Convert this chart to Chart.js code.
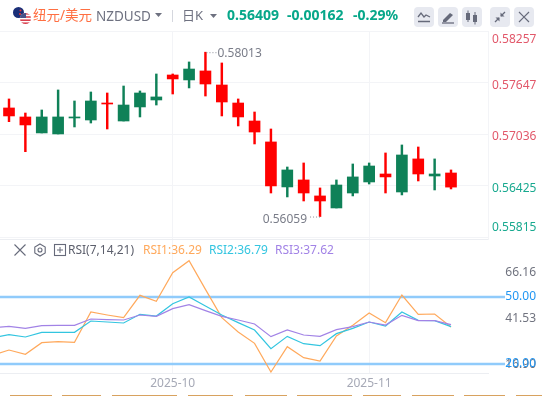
<!DOCTYPE html>
<html><head><meta charset="utf-8">
<script src="https://cdn.jsdelivr.net/npm/chart.js@4"></script>
<style>
html,body{margin:0;padding:0;background:#fff;overflow:hidden}
#wrap{position:relative;width:542px;height:396px;font-family:"Noto Sans","Noto Sans CJK SC",sans-serif;overflow:hidden}
#c{position:absolute;left:0;top:0;width:542px;height:396px}
.t{position:absolute;white-space:nowrap;line-height:18px;height:18px}
.btn{position:absolute;top:7px;width:20px;height:20px;background:#e7e9f0;border-radius:4px}
.btn svg{position:absolute;left:0;top:0}
.tab{position:absolute;top:395px;height:1px;background:#d8a25f}
svg.ic{position:absolute}
</style></head><body>
<div id="wrap">
<canvas id="c" width="542" height="396"></canvas>
<svg class="ic" style="left:12px;top:6px" width="22" height="20" viewBox="0 0 22 20">
 <defs><clipPath id="a"><circle cx="13.5" cy="12.5" r="5.5"/></clipPath></defs>
 <circle cx="6.5" cy="6.5" r="5.5" fill="#1a2f78"/><circle cx="8.5" cy="4.5" r="1" fill="#e33"/><circle cx="8" cy="8" r="1" fill="#e33"/>
 <g clip-path="url(#a)"><rect x="7" y="6" width="14" height="13" fill="#fff"/><rect x="7" y="7" width="14" height="1.6" fill="#d9404f"/><rect x="7" y="10.2" width="14" height="1.6" fill="#d9404f"/><rect x="7" y="13.4" width="14" height="1.6" fill="#d9404f"/><rect x="7" y="16.4" width="14" height="1.6" fill="#d9404f"/><rect x="7" y="6" width="7" height="6" fill="#48528a"/></g>
</svg>
<div class="t" style="left:33px;top:6px;font-size:13.5px;color:#ff6f42">纽元/美元</div>
<div class="t" style="left:96px;top:7px;font-size:13.5px;color:#6e7180">NZDUSD</div>
<svg class="ic" style="left:155px;top:13px" width="8" height="5"><path d="M0 0H7L3.5 4Z" fill="#6e7180"/></svg>
<div style="position:absolute;left:172px;top:10px;width:1px;height:12px;background:#d5d7de"></div>
<div class="t" style="left:182px;top:6px;font-size:13px;color:#6e7180">日K</div>
<svg class="ic" style="left:210px;top:14px" width="8" height="5"><path d="M0 0H7L3.5 4Z" fill="#6e7180"/></svg>
<div class="t" style="left:227px;top:6px;font-size:14px;font-weight:700;color:#07a78a">0.56409</div>
<div class="t" style="left:287px;top:6px;font-size:14px;font-weight:700;color:#07a78a">-0.00162</div>
<div class="t" style="left:353px;top:6px;font-size:14px;font-weight:700;color:#07a78a">-0.29%</div>
<div class="btn" style="left:414px"><svg width="20" height="20"><path d="M4 10l3-4 3 4 2-2 4 2" fill="none" stroke="#666a7a" stroke-width="1.3"/><path d="M4 14.5H16" stroke="#666a7a" stroke-width="1.5"/></svg></div>
<div class="btn" style="left:438px"><svg width="20" height="20"><path d="M5 13l7-7 3 2-7 7H5z" fill="#666a7a"/><path d="M4 16H16" stroke="#666a7a" stroke-width="1.3"/></svg></div>
<div class="btn" style="left:462px"><svg width="20" height="20"><rect x="4" y="6" width="4" height="7" fill="#666a7a"/><rect x="11" y="8" width="4" height="7" fill="#666a7a"/><path d="M6 3.5V15M13 5V17.5" stroke="#666a7a"/></svg></div>
<div class="btn" style="left:490px"><svg width="20" height="20"><path d="M15 5l-4 4M5 15l4-4" stroke="#666a7a" stroke-width="1.3"/><path d="M10.5 5.5v4h4M5.5 10.5h4v4" fill="#666a7a"/></svg></div>
<div class="btn" style="left:514px"><svg width="20" height="20"><path d="M5 5l10 10M15 5L5 15" stroke="#666a7a" stroke-width="1.2"/></svg></div>

<svg class="ic" style="left:13px;top:243px" width="14" height="14"><path d="M1.5 1.5l11 11M12.5 1.5l-11 11" stroke="#666a7a" stroke-width="1.1"/></svg>
<svg class="ic" style="left:33px;top:243px" width="14" height="14"><path d="M7 1l5.2 3v6L7 13 1.8 10V4z" fill="none" stroke="#666a7a" stroke-width="1.1"/><circle cx="7" cy="7" r="2" fill="none" stroke="#666a7a" stroke-width="1.1"/></svg>
<svg class="ic" style="left:53px;top:243px" width="14" height="14"><rect x="1.5" y="1.5" width="11" height="11" fill="none" stroke="#666a7a" stroke-width="1.1"/><path d="M4 7h6M7 4v6" stroke="#666a7a"/></svg>
<div class="t" style="left:68px;top:241px;font-size:12px;color:#5c5f6c">RSI(7,14,21)</div>
<div class="t" style="left:143px;top:241px;font-size:12px;color:#ffa95c">RSI1:36.29</div>
<div class="t" style="left:209px;top:241px;font-size:12px;color:#33c5e0">RSI2:36.79</div>
<div class="t" style="left:275px;top:241px;font-size:12px;color:#a283e6">RSI3:37.62</div>

<div class="tab" style="left:10px;width:42px"></div><div class="tab" style="left:62px;width:39px"></div>
<div class="tab" style="left:112px;width:65px"></div><div class="tab" style="left:188px;width:45px"></div>
<div class="tab" style="left:245px;width:42px"></div><div class="tab" style="left:297px;width:55px"></div>
<div class="tab" style="left:363px;width:38px"></div><div class="tab" style="left:412px;width:42px"></div>
<div class="tab" style="left:464px;width:41px"></div><div class="tab" style="left:516px;width:26px"></div>
</div>
<script>
const opens  = [.57350,.57243,.57053,.57041,.57231,.57207,.57409,.57195,.57362,.57445,.57742,.57683,.57790,.57623,.57409,.57195,.56946,.56411,.56494,.56304,.56161,.56339,.56470,.56565,.56351,.56744,.56541,.56577];
const closes = [.57255,.57148,.57243,.57243,.57243,.57433,.57397,.57385,.57528,.57481,.57695,.57813,.57635,.57421,.57243,.57064,.56423,.56613,.56339,.56244,.56434,.56530,.56660,.56530,.56791,.56565,.56565,.56409];
const highs  = [.57457,.57290,.57326,.57564,.57433,.57540,.57528,.57611,.57552,.57754,.57754,.57897,.58013,.57885,.57457,.57302,.57100,.56648,.56696,.56399,.56494,.56684,.56696,.56815,.56910,.56886,.56744,.56613];
const lows   = [.57187,.56830,.57053,.57041,.57124,.57171,.57100,.57195,.57243,.57385,.57516,.57588,.57492,.57255,.57136,.56922,.56339,.56292,.56244,.56059,.56161,.56304,.56446,.56339,.56316,.56482,.56375,.56387];
// RSI series start one bar before the first visible candle
const rsi1 = [21.92,24.77,22.45,28.70,29.23,28.88,45.12,43.51,42.08,54.04,50.83,66.17,72.60,57.25,42.08,34.41,28.34,13.00,26.56,20.67,18.88,32.27,37.98,44.58,39.41,54.22,43.87,44.05,37.09];
const rsi2 = [31.38,32.98,31.73,34.23,34.23,34.23,40.30,39.76,39.23,43.87,42.97,49.58,53.14,48.33,43.51,39.41,35.48,25.49,32.09,28.16,27.09,33.52,36.37,39.76,37.62,45.12,40.65,40.48,37.26];
const rsi3 = [36.73,37.44,36.37,37.80,37.98,37.98,41.37,41.01,40.83,43.51,42.80,46.90,49.04,45.83,42.80,40.83,38.69,31.91,35.48,32.80,32.09,35.66,37.26,39.76,38.16,43.33,40.48,40.48,38.33];
const priceTicks = [.58257,.57647,.57036,.56425,.55815];
const rsiTicks = [66.16,41.53,16.90];
const monthTicks = [10,22];
const monthLabels = ['2025-10','2025-11'];
const bandLevels = [53.15,17.28];
const bandLabels = ['50.00','20.00'];
const hiMark = {i:12,v:.58013,text:'0.58013'};
const loMark = {i:19,v:.56059,text:'0.56059'};

const RED='#ff0000',GREEN='#0f8158',GRID='#f3f4f7';
const colors = closes.map((c,i)=>c<opens[i]?RED:GREEN);
const spanEnd = 30.3;

const labelsPlugin = {
  id:'labels',
  afterDraw(ch){
    const c=ch.ctx, x=ch.scales.x, yp=ch.scales.yPrice, yr=ch.scales.yRsi;
    c.save();
    c.font='12px "Noto Sans"'; c.textBaseline='middle'; c.textAlign='left';
    priceTicks.forEach((v,i)=>{
      let y=yp.getPixelForValue(v)+2.5;
      if(i===0) y+=5.5; if(i===4) y-=11.5;
      c.fillStyle=i<3?'#e2586a':'#18a98f';
      c.fillText(v.toFixed(5),492,y);
    });
    c.textAlign='right';
    c.fillStyle='#70737f';
    rsiTicks.forEach(v=>c.fillText(v.toFixed(2),536,yr.getPixelForValue(v)));
    c.fillStyle='#2196f3';
    bandLevels.forEach((v,i)=>c.fillText(bandLabels[i],536,yr.getPixelForValue(v)));
    // extreme markers
    c.fillStyle='#7a7d89'; c.textAlign='left';
    const hx=x.getPixelForValue(hiMark.i), hy=yp.getPixelForValue(hiMark.v);
    c.fillText(hiMark.text,hx+12,hy+1.5);
    const lx=x.getPixelForValue(loMark.i), ly=yp.getPixelForValue(loMark.v);
    c.textAlign='right';
    c.fillText(loMark.text,lx-13,ly+3);
    c.strokeStyle='#8a8d98'; c.lineWidth=1; c.setLineDash([1,2]);
    c.beginPath(); c.moveTo(hx+1,hy+.5); c.lineTo(hx+11,hy+.5);
    c.moveTo(lx-10,ly+.5); c.lineTo(lx,ly+.5); c.stroke();
    c.restore();
  }
};

const lineDs=(data,color,order)=>({type:'line',yAxisID:'yRsi',data:data.map((y,i)=>({x:i-1,y})),
  borderColor:color,borderWidth:1.2,pointRadius:0,tension:0,order});
const bandDs=(v)=>({type:'line',yAxisID:'yRsi',data:[{x:-1,y:v},{x:spanEnd,y:v}],
  borderColor:'#90cbfb',borderWidth:2.4,pointRadius:0,order:10,clip:false});

new Chart(document.getElementById('c'),{
  type:'bar',
  data:{datasets:[
    {yAxisID:'yPrice',data:highs.map((h,i)=>({x:i,y:[lows[i],h]})),backgroundColor:colors,barThickness:1.8,grouped:false,order:6},
    {yAxisID:'yPrice',data:opens.map((o,i)=>({x:i,y:[o,closes[i]]})),backgroundColor:colors,barThickness:11,grouped:false,order:5},
    bandDs(bandLevels[0]),bandDs(bandLevels[1]),
    lineDs(rsi1,'#ffa95c',9),lineDs(rsi2,'#33c5e0',8),lineDs(rsi3,'#a283e6',7)
  ]},
  plugins:[labelsPlugin],
  options:{
    responsive:false,animation:false,events:[],
    layout:{padding:{top:31,left:0,right:0,bottom:0}},
    plugins:{legend:{display:false},tooltip:{enabled:false}},
    scales:{
      x:{type:'linear',min:-0.55,max:29.26,offset:false,
        afterBuildTicks(s){s.ticks=monthTicks.map(value=>({value}))},
        afterFit(s){s.height=23},
        grid:{color:GRID,drawTicks:false,offset:false},border:{color:'#eceef2'},
        ticks:{maxRotation:0,autoSkip:false,padding:3,color:'#a6a9b6',font:{family:'Noto Sans',size:12},
          callback:v=>monthLabels[monthTicks.indexOf(v)]}
      },
      yPrice:{position:'right',stack:'all',stackWeight:208,min:.55792,max:.58265,
        afterBuildTicks(s){s.ticks=priceTicks.map(value=>({value}))},
        afterFit(s){s.width=54},
        grid:{color:GRID,drawTicks:false},border:{display:true,color:GRID},ticks:{display:false}
      },
      yRsi:{position:'right',stack:'all',stackWeight:134,min:12.46,max:84.2,
        afterBuildTicks(s){s.ticks=[{value:84.2}]},
        afterFit(s){s.width=54},
        grid:{color:'#eceef2',drawTicks:false},border:{display:false},ticks:{display:false}
      }
    }
  }
});
</script>
</body></html>
